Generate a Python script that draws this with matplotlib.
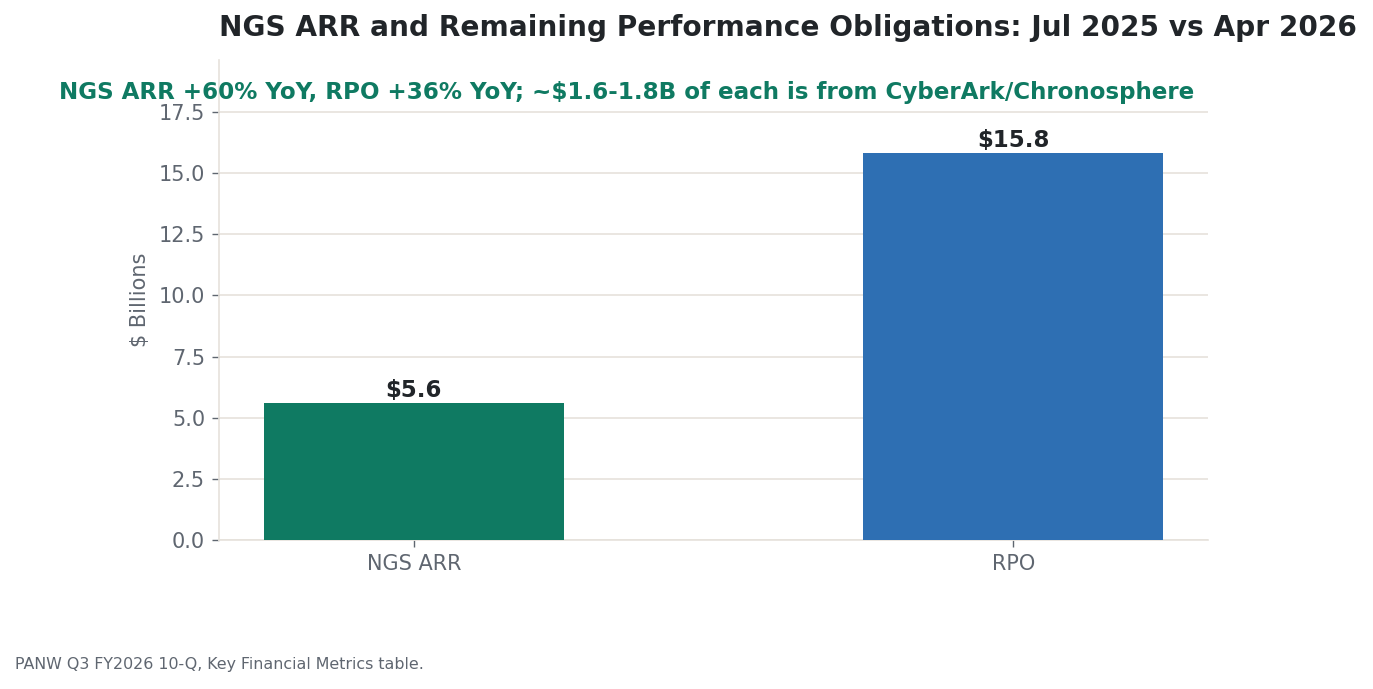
import matplotlib
matplotlib.use("Agg")
import matplotlib.pyplot as plt

categories = ["NGS ARR", "RPO"]
values = [5.6, 15.8]
bar_labels = ["$5.6", "$15.8"]
bar_colors = ["#0f7a62", "#2e6fb3"]
yticks = [0.0, 2.5, 5.0, 7.5, 10.0, 12.5, 15.0, 17.5]

title = "NGS ARR and Remaining Performance Obligations: Jul 2025 vs Apr 2026"
subtitle = "NGS ARR +60% YoY, RPO +36% YoY; ~$1.6-1.8B of each is from CyberArk/Chronosphere"
footer = "PANW Q3 FY2026 10-Q, Key Financial Metrics table."

plt.rcParams['font.family'] = ['DejaVu Sans']
fig = plt.figure(figsize=(13.73, 6.89), dpi=100)
ax = fig.add_axes([219/1373, 1-540/689, (1208-219)/1373, (540-60)/689])

x = list(range(len(categories)))
bars = ax.bar(x, values, width=0.5, color=bar_colors, zorder=3)
for xi, v, lab in zip(x, values, bar_labels):
    ax.text(xi, v + 0.06, lab, ha="center", va="bottom", fontsize=16.5,
            fontweight="bold", color="#212529", zorder=4)

ax.set_xlim(-0.325, 1.325)
ax.set_ylim(0, 19.62)
ax.set_yticks(yticks)
ax.set_yticklabels([f"{t:.1f}" for t in yticks])
ax.set_xticks(x)
ax.set_xticklabels(categories)
ax.tick_params(axis="both", labelsize=15, colors="#5f6670", length=5, width=1)
ax.tick_params(axis="y", pad=5)
ax.tick_params(axis="x", pad=5)
ax.set_ylabel("$ Billions", fontsize=15, color="#5f6670", labelpad=6)
ax.grid(axis="y", color="#e6e2dc", linewidth=1.2, zorder=0)
ax.set_axisbelow(True)
for s in ["top", "right"]:
    ax.spines[s].set_visible(False)
for s in ["left", "bottom"]:
    ax.spines[s].set_color("#e6e2dc")
    ax.spines[s].set_linewidth(1.2)

fig.text(788/1373, 1-28/689, title, ha="center", va="center", fontsize=20.2,
         fontweight="bold", color="#212529")
fig.text(627/1373, 1-92/689, subtitle, ha="center", va="center", fontsize=16.6,
         fontweight="bold", color="#0f7a62")
fig.text(15/1373, 1-665/689, footer, ha="left", va="center", fontsize=11.4,
         color="#5f6670")

fig.savefig("out.png", dpi=100)
